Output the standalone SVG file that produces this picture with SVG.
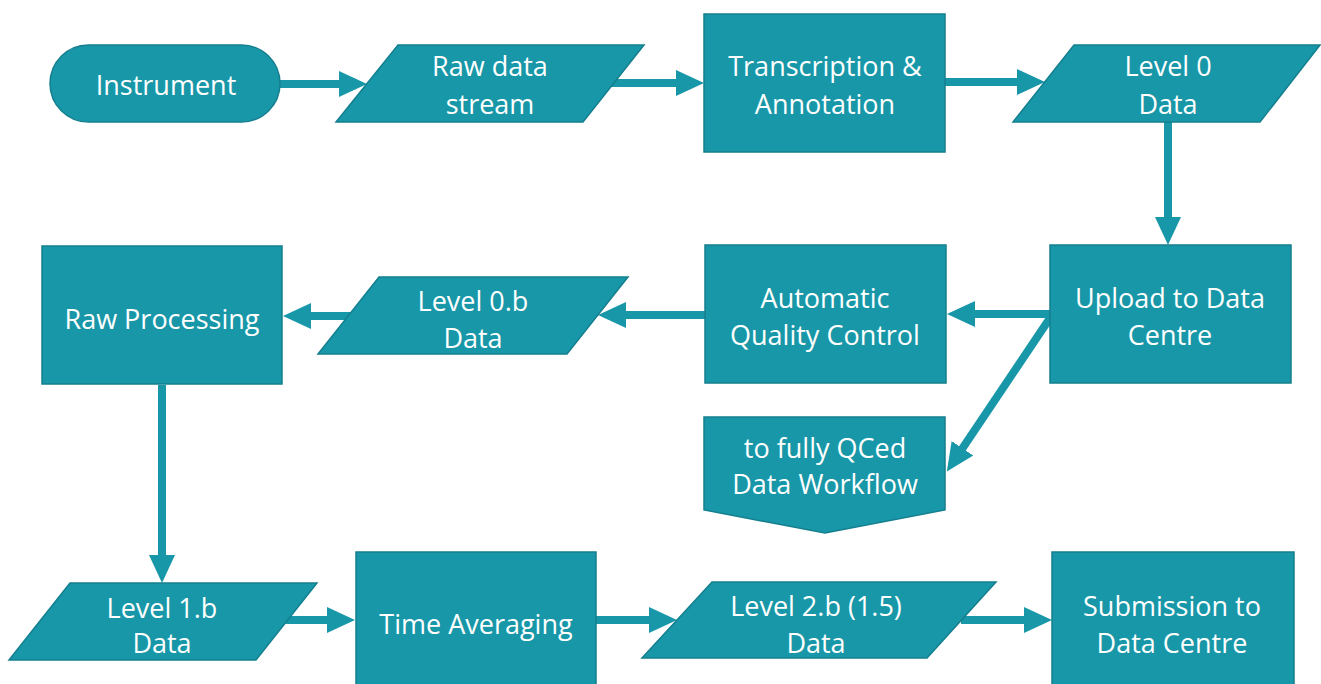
<svg xmlns="http://www.w3.org/2000/svg" width="1321" height="684" viewBox="0 0 1321 684">
<style>
.s{fill:#1897A8;stroke:#147F8E;stroke-width:1.5}
.t{fill:#fff;font-family:"Open Sans","Liberation Sans",sans-serif;font-size:27px;text-anchor:middle;dominant-baseline:central}
.c{fill:none;stroke:#1897A8;stroke-width:8}
</style>
<defs>
<marker id="ah" markerUnits="userSpaceOnUse" markerWidth="28" markerHeight="28" viewBox="0 0 28 28" refX="8" refY="14" orient="auto">
<path d="M0,1 L28,14 L0,27 z" fill="#1897A8"/>
</marker>
</defs>
<rect width="1321" height="684" fill="#fff"/>
<g id="connectors">
<line class="c" x1="280" y1="84" x2="347" y2="84" marker-end="url(#ah)"/>
<line class="c" x1="611" y1="83" x2="684" y2="83" marker-end="url(#ah)"/>
<line class="c" x1="945" y1="82" x2="1025" y2="82" marker-end="url(#ah)"/>
<line class="c" x1="1168" y1="121" x2="1168" y2="225" marker-end="url(#ah)"/>
<line class="c" x1="1050" y1="314" x2="967" y2="314" marker-end="url(#ah)"/>
<line class="c" x1="1050" y1="318" x2="958" y2="455" marker-end="url(#ah)"/>
<line class="c" x1="705" y1="315" x2="618" y2="315" marker-end="url(#ah)"/>
<line class="c" x1="350" y1="316" x2="303" y2="316" marker-end="url(#ah)"/>
<line class="c" x1="162" y1="385" x2="162" y2="563" marker-end="url(#ah)"/>
<line class="c" x1="286" y1="620" x2="335" y2="620" marker-end="url(#ah)"/>
<line class="c" x1="596" y1="620" x2="657" y2="620" marker-end="url(#ah)"/>
<line class="c" x1="961" y1="620" x2="1032" y2="620" marker-end="url(#ah)"/>
</g>
<g id="instrument">
<rect class="s" x="50" y="45" width="230" height="77" rx="38.5"/>
<text class="t" x="166" y="84">Instrument</text>
</g>
<g id="raw-data-stream">
<polygon class="s" points="398,45 644,45 583,122 336,122"/>
<text class="t" x="490" y="65">Raw data</text>
<text class="t" x="490" y="103">stream</text>
</g>
<g id="transcription">
<rect class="s" x="704" y="14" width="241" height="138"/>
<text class="t" x="825" y="65">Transcription &amp;</text>
<text class="t" x="825" y="103">Annotation</text>
</g>
<g id="level0">
<polygon class="s" points="1074,45 1320,45 1260,122 1013,122"/>
<text class="t" x="1168" y="65">Level 0</text>
<text class="t" x="1168" y="103">Data</text>
</g>
<g id="upload">
<rect class="s" x="1050" y="245" width="241" height="138"/>
<text class="t" x="1170" y="297">Upload to Data</text>
<text class="t" x="1170" y="334">Centre</text>
</g>
<g id="aqc">
<rect class="s" x="705" y="245" width="241" height="138"/>
<text class="t" x="825" y="297">Automatic</text>
<text class="t" x="825" y="334">Quality Control</text>
</g>
<g id="to-qced">
<polygon class="s" points="704,417 945,417 945,510 825,533 704,510"/>
<text class="t" x="825" y="447">to fully QCed</text>
<text class="t" x="825" y="483">Data Workflow</text>
</g>
<g id="level0b">
<polygon class="s" points="379,277 628,277 567,354 318,354"/>
<text class="t" x="473" y="300">Level 0.b</text>
<text class="t" x="473" y="337">Data</text>
</g>
<g id="raw-processing">
<rect class="s" x="42" y="246" width="240" height="138"/>
<text class="t" x="162" y="318">Raw Processing</text>
</g>
<g id="level1b">
<polygon class="s" points="70,583 317,583 256,660 9,660"/>
<text class="t" x="162" y="607">Level 1.b</text>
<text class="t" x="162" y="642">Data</text>
</g>
<g id="time-averaging">
<rect class="s" x="356" y="552" width="240" height="150"/>
<text class="t" x="476" y="623">Time Averaging</text>
</g>
<g id="level2b">
<polygon class="s" points="712,582 996,582 927,658 642,658"/>
<text class="t" x="816" y="605">Level 2.b (1.5)</text>
<text class="t" x="816" y="642">Data</text>
</g>
<g id="submission">
<rect class="s" x="1052" y="552" width="242" height="150"/>
<text class="t" x="1172" y="605">Submission to</text>
<text class="t" x="1172" y="642">Data Centre</text>
</g>
</svg>
